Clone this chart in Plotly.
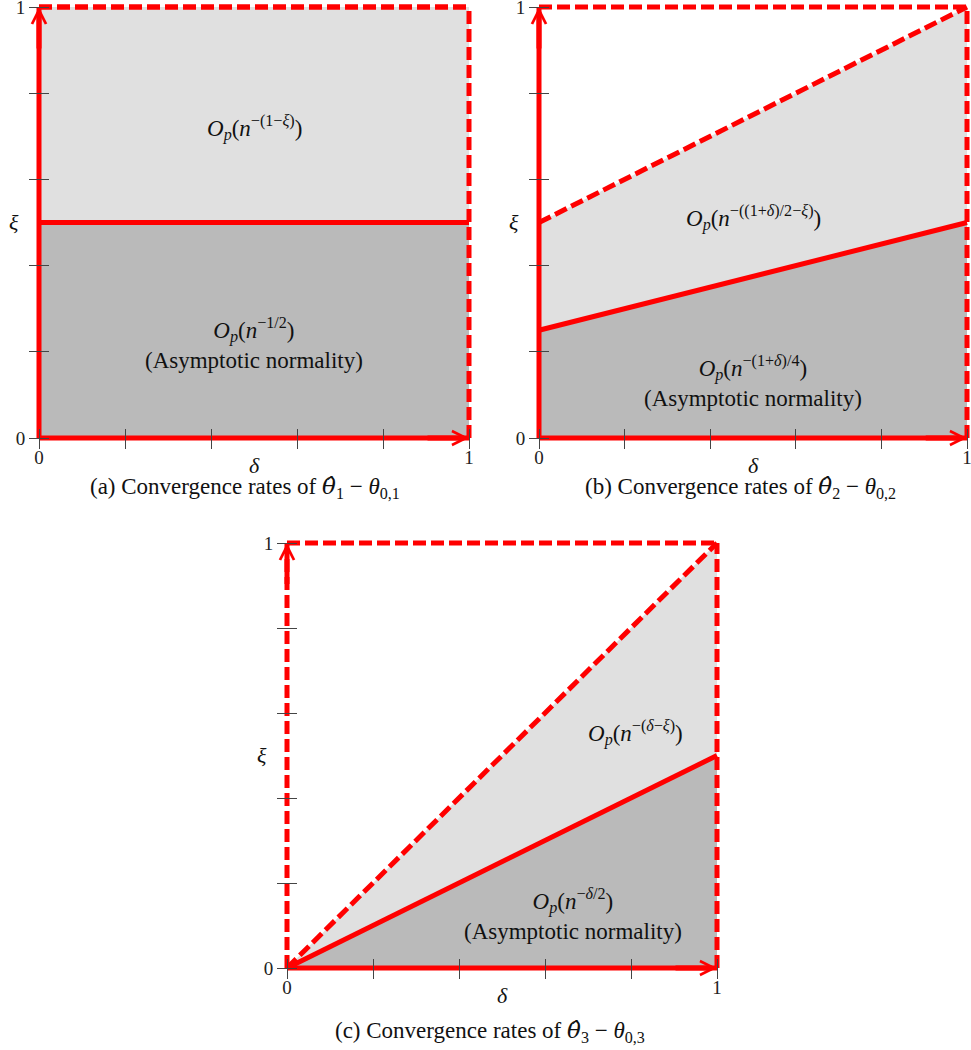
import plotly.graph_objects as go

W, H = 971, 1050
RED = "#ff0000"
LIGHT = "#e0e0e0"
DARK = "#bababa"
FONT = "Liberation Serif"

# shared axis values
delta = [0, 1]
tick_vals = [0, 0.2, 0.4, 0.6, 0.8, 1]
tick_text = ["0", "", "", "", "", "1"]

# frame of the unit square
top_x, top_y = [0, 1], [1, 1]
right_x, right_y = [1, 1], [0, 1]
left_x, left_y = [0, 0], [0, 1]
bottom_x, bottom_y = [0, 1], [0, 0]

# solid boundary (asymptotic normality below it) and upper edge of light region
xi_low_a = [0.5, 0.5]
xi_up_a = [1, 1]
xi_low_b = [0.25, 0.5]
xi_up_b = [0.5, 1]
xi_low_c = [0, 0.5]
xi_up_c = [0, 1]

rate_up = [
    "<i>O<sub>p</sub></i>(<i>n</i><sup>−(1−<i>ξ</i>)</sup>)",
    "<i>O<sub>p</sub></i>(<i>n</i><sup>−((1+<i>δ</i>)/2−<i>ξ</i>)</sup>)",
    "<i>O<sub>p</sub></i>(<i>n</i><sup>−(<i>δ</i>−<i>ξ</i>)</sup>)",
]
rate_low = [
    "<i>O<sub>p</sub></i>(<i>n</i><sup>−1/2</sup>)<br>(Asymptotic normality)",
    "<i>O<sub>p</sub></i>(<i>n</i><sup>−(1+<i>δ</i>)/4</sup>)<br>(Asymptotic normality)",
    "<i>O<sub>p</sub></i>(<i>n</i><sup>−<i>δ</i>/2</sup>)<br>(Asymptotic normality)",
]
THETA_HAT = "<span style='font-family:DejaVu Serif'><i>θ̂</i></span>"
captions = [
    "(a) Convergence rates of " + THETA_HAT + "<sub>1</sub> − <i>θ</i><sub>0,1</sub>",
    "(b) Convergence rates of " + THETA_HAT + "<sub>2</sub> − <i>θ</i><sub>0,2</sub>",
    "(c) Convergence rates of " + THETA_HAT + "<sub>3</sub> − <i>θ</i><sub>0,3</sub>",
]

# pixel frame of each panel: delta 0..1 -> x0..x1, xi 0..1 -> y0..y1
panels = [
    dict(x0=39, x1=469, y0=438, y1=7, low=xi_low_a, up=xi_up_a, left_dash=False,
         t_up=(0.5, 0.72), t_low=(0.5, 0.22), cap=(245, 488)),
    dict(x0=539, x1=967, y0=438, y1=7, low=xi_low_b, up=xi_up_b, left_dash=False,
         t_up=(0.5, 0.51), t_low=(0.5, 0.13), cap=(740, 488)),
    dict(x0=287, x1=717, y0=968, y1=543, low=xi_low_c, up=xi_up_c, left_dash=True,
         t_up=(0.81, 0.553), t_low=(0.665, 0.125), cap=(490, 1031)),
]

PAD = 4  # px of room so the thick edge lines are not clipped

fig = go.Figure()
annotations = []
layout_axes = {}

for i, p in enumerate(panels):
    n = "" if i == 0 else str(i + 1)
    xr, yr = "x" + n, "y" + n
    px_w = p["x1"] - p["x0"]
    px_h = p["y0"] - p["y1"]
    padx = PAD / px_w
    pady = PAD / px_h

    # regions
    fig.add_trace(go.Scatter(x=delta, y=p["low"], fill="tozeroy", fillcolor=DARK,
                             mode="lines", line=dict(width=0), xaxis=xr, yaxis=yr, hoverinfo="skip"))
    fig.add_trace(go.Scatter(x=delta, y=p["up"], fill="tonexty", fillcolor=LIGHT,
                             mode="lines", line=dict(width=0), xaxis=xr, yaxis=yr, hoverinfo="skip"))

    dash = dict(color=RED, width=5, dash="13px,5px")
    solid = dict(color=RED, width=5)
    for xs, ys, ln in [
        (top_x, top_y, dash),
        (right_x, right_y, dash),
        (delta, p["up"], dash),
        (left_x, left_y, dash if p["left_dash"] else solid),
        (bottom_x, bottom_y, solid),
        (delta, p["low"], solid),
    ]:
        fig.add_trace(go.Scatter(x=xs, y=ys, mode="lines", line=ln,
                                 xaxis=xr, yaxis=yr, hoverinfo="skip"))

    ax_common = dict(showgrid=False, zeroline=False, showline=False, ticks="outside",
                     ticklen=20, tickwidth=1, tickcolor="#444", tickvals=tick_vals,
                     ticktext=tick_text, tickfont=dict(family=FONT, size=19, color="#222"),
                     fixedrange=True, anchor="free", automargin=False,
                     ticklabeloverflow="allow")
    layout_axes["xaxis" + n] = dict(
        ax_common, range=[-padx, 1 + padx],
        domain=[(p["x0"] - PAD) / W, (p["x1"] + PAD) / W],
        position=1 - (p["y0"] - 10) / H, ticklabelstandoff=-8)
    layout_axes["yaxis" + n] = dict(
        ax_common, range=[-pady, 1 + pady],
        domain=[1 - (p["y0"] + PAD) / H, 1 - (p["y1"] - PAD) / H],
        position=(p["x0"] + 10) / W)

    # arrow heads on the axes
    for x, y, axv, ayv in [(0, 1, 0, 0.9), (1, 0, 0.9, 0)]:
        annotations.append(dict(x=x, y=y, ax=axv, ay=ayv, xref=xr, yref=yr, axref=xr, ayref=yr,
                                text="", showarrow=True, arrowhead=5, arrowsize=0.55,
                                arrowwidth=5, arrowcolor=RED, standoff=0))

    tf = dict(family=FONT, size=23, color="#111")
    annotations.append(dict(x=p["t_up"][0], y=p["t_up"][1], xref=xr, yref=yr, text=rate_up[i],
                            showarrow=False, font=tf))
    annotations.append(dict(x=p["t_low"][0], y=p["t_low"][1], xref=xr, yref=yr, text=rate_low[i],
                            showarrow=False, font=tf))
    # axis names
    af = dict(family=FONT, size=22, color="#111")
    annotations.append(dict(x=0.5, y=0, xref=xr, yref=yr, text="<i>δ</i>", showarrow=False,
                            yshift=-27, font=af))
    annotations.append(dict(x=0, y=0.5, xref=xr, yref=yr, text="<i>ξ</i>", showarrow=False,
                            xshift=-25, font=af))
    # caption
    annotations.append(dict(x=p["cap"][0] / W, y=1 - p["cap"][1] / H, xref="paper", yref="paper",
                            xanchor="center", yanchor="middle",
                            text=captions[i], showarrow=False, font=tf))

fig.update_layout(
    width=W, height=H,
    margin=dict(l=0, r=0, t=0, b=0, autoexpand=False),
    paper_bgcolor="white", plot_bgcolor="white",
    showlegend=False,
    annotations=annotations,
    **layout_axes,
)

# drop the browser's default 8px body margin so the figure sits at the page origin
fig.write_html("out.html", config={"displayModeBar": False},
               post_script="document.body.style.margin='0';document.body.style.overflow='hidden';")
